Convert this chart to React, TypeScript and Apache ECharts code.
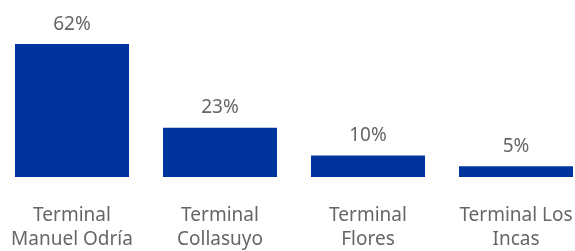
import React, { useEffect, useRef } from "react";
import * as echarts from "echarts";

const categories = [
  "Terminal\nManuel Odría",
  "Terminal\nCollasuyo",
  "Terminal\nFlores",
  "Terminal Los\nIncas",
];
const values = [62, 23, 10, 5];

export default function App() {
  const ref = useRef<HTMLDivElement>(null);
  useEffect(() => {
    if (!ref.current) return;
    const chart = echarts.init(ref.current, undefined, { renderer: "svg" });
    chart.setOption({
      animation: false,
      grid: { left: 0, right: 0, top: 44, bottom: 74 },
      xAxis: {
        type: "category",
        data: categories,
        axisLine: { show: false },
        axisTick: { show: false },
        axisLabel: {
          interval: 0,
          margin: 25,
          color: "#666666",
          fontSize: 19,
          lineHeight: 24,
          fontFamily: "Noto Sans",
        },
      },
      yAxis: { type: "value", min: 0, max: 62, show: false },
      series: [
        {
          type: "bar",
          data: values,
          barWidth: 114,
          itemStyle: { color: "#00339E" },
          label: {
            show: true,
            position: "top",
            distance: 12,
            formatter: (p: any) => p.value + "%",
            color: "#666666",
            fontSize: 19,
            fontFamily: "Noto Sans",
          },
        },
      ],
    });
    return () => chart.dispose();
  }, []);
  return (
    <div
      ref={ref}
      style={{ position: "fixed", left: -2, top: 0, width: 592, height: 251 }}
    />
  );
}
